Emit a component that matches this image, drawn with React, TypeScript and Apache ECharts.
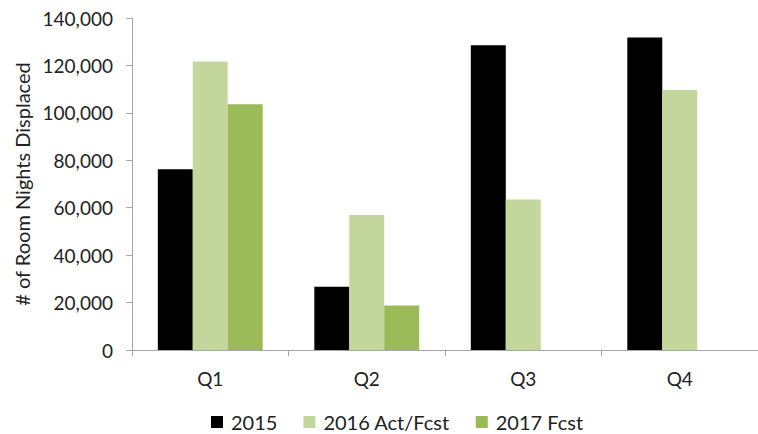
import React, { useEffect, useRef } from "react";
import * as echarts from "echarts";

const categories = ["Q1", "Q2", "Q3", "Q4"];
const s2015 = [76200, 26700, 128500, 131800];
const s2016 = [121700, 56900, 63500, 109600];
const s2017: (number | null)[] = [103600, 18800, null, null];
const seriesNames = ["2015", "2016 Act/Fcst", "2017 Fcst"];
const colors = ["#000000", "#c3d69b", "#9bbb59"];

export default function App() {
  const ref = useRef<HTMLDivElement>(null);
  useEffect(() => {
    if (!ref.current) return;
    const chart = echarts.init(ref.current, null, { renderer: "svg" });
    const font = "Lato, 'Open Sans', sans-serif";
    const mk = (name: string, data: (number | null)[], color: string) => ({
      name,
      type: "bar",
      data,
      barGap: "0%",
      barCategoryGap: "33%",
      itemStyle: { color },
    });
    chart.setOption({
      animation: false,
      backgroundColor: "#ffffff",
      textStyle: { fontFamily: font },
      grid: { left: 132, top: 18, height: 332, width: 642 },
      legend: {
        left: 206,
        top: 406,
        itemWidth: 12,
        itemHeight: 12,
        itemGap: 26,
        icon: "rect",
        textStyle: {
          fontSize: 20,
          lineHeight: 22,
          color: "#222",
          fontFamily: font,
          padding: [0, 0, 0, 3],
        },
        data: seriesNames,
      },
      xAxis: {
        type: "category",
        data: categories,
        axisLine: { lineStyle: { color: "#a6a6a6", width: 1 } },
        axisTick: { show: true, length: 6, lineStyle: { color: "#a6a6a6" } },
        axisLabel: { fontSize: 19, color: "#222", margin: 19, fontFamily: font },
      },
      yAxis: {
        type: "value",
        min: 0,
        max: 140000,
        interval: 20000,
        name: "# of Room Nights Displaced",
        nameLocation: "middle",
        nameGap: 99,
        nameTextStyle: { fontSize: 20, color: "#222", fontFamily: font },
        axisLine: { show: true, lineStyle: { color: "#a6a6a6", width: 1 } },
        axisTick: { show: true, length: 6, lineStyle: { color: "#a6a6a6" } },
        splitLine: { show: false },
        axisLabel: {
          fontSize: 19,
          color: "#222",
          margin: 19,
          fontFamily: font,
          formatter: (v: number) => v.toLocaleString("en-US"),
        },
      },
      series: [
        mk(seriesNames[0], s2015, colors[0]),
        mk(seriesNames[1], s2016, colors[1]),
        mk(seriesNames[2], s2017, colors[2]),
      ],
    });
    return () => chart.dispose();
  }, []);
  return (
    <div
      ref={ref}
      style={{ position: "absolute", left: 0, top: 0, width: 758, height: 434 }}
    />
  );
}
